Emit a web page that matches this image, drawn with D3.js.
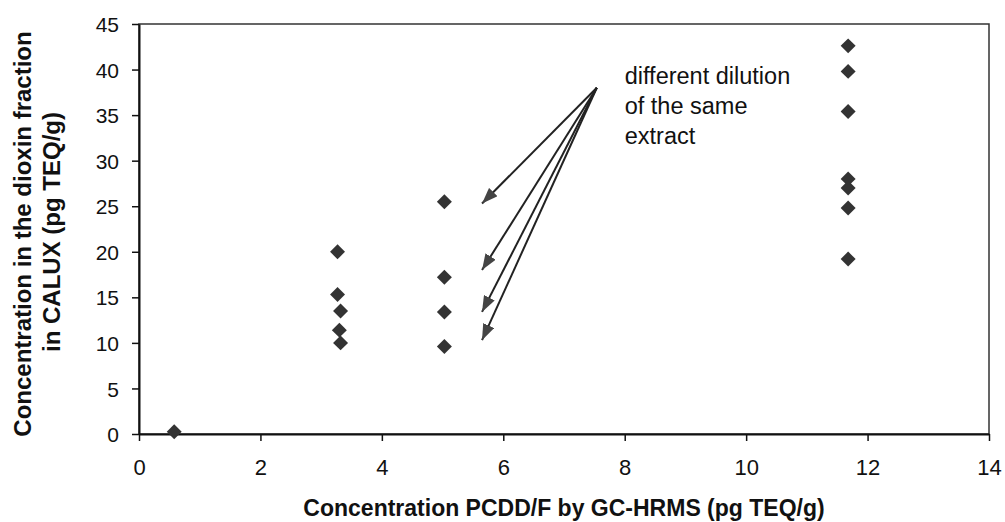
<!DOCTYPE html>
<html>
<head>
<meta charset="utf-8">
<script src="https://cdn.jsdelivr.net/npm/d3@7"></script>
<style>
  body { margin: 0; background: #fff; }
  text { font-family: Arial, "Liberation Sans", sans-serif; fill: #111; }
</style>
</head>
<body>
<div id="chart"></div>
<script>
// data
const calux_x = [0.58, 3.27, 3.27, 3.32, 3.30, 3.32, 5.03, 5.03, 5.03, 5.03, 11.68, 11.68, 11.68, 11.68, 11.68, 11.68, 11.68];
const calux_y = [0.25, 20.0, 15.3, 13.5, 11.4, 10.0, 25.5, 17.2, 13.4, 9.6, 42.6, 39.8, 35.4, 28.0, 27.0, 24.8, 19.2];

const x_ticks = [0, 2, 4, 6, 8, 10, 12, 14];
const y_ticks = [0, 5, 10, 15, 20, 25, 30, 35, 40, 45];

// annotation arrows, in data units
const arrow_start = [7.54, 38.0];
const arrow_ends = [[5.65, 25.3], [5.65, 18.0], [5.65, 13.4], [5.65, 10.3]];
const note_lines = ["different dilution", "of the same", "extract"];

const w = 1005, h = 522;
const margin = { top: 24, right: 16, bottom: 88, left: 139 },
    width = w - margin.left - margin.right,
    height = h - margin.top - margin.bottom;

const svg = d3.select("#chart")
    .append("svg")
    .attr("width", w)
    .attr("height", h);

svg.append("defs").append("marker")
    .attr("id", "head")
    .attr("markerUnits", "userSpaceOnUse")
    .attr("viewBox", "0 0 16 12")
    .attr("refX", 16).attr("refY", 6)
    .attr("markerWidth", 16).attr("markerHeight", 12)
    .attr("orient", "auto")
    .append("path")
    .attr("d", "M0,0 L16,6 L0,12 Z")
    .attr("fill", "#444");

const g = svg.append("g")
    .attr("transform", `translate(${margin.left}, ${margin.top})`);

const x = d3.scaleLinear().domain([0, 14]).range([0, width]);
const y = d3.scaleLinear().domain([0, 45]).range([height, 0]);

// plot frame (top and right)
g.append("rect")
    .attr("width", width).attr("height", height)
    .attr("fill", "none")
    .attr("stroke", "#333")
    .attr("stroke-width", 1.5);

// axes
const xAxis = g.append("g")
    .attr("transform", `translate(0, ${height})`)
    .call(d3.axisBottom(x).tickValues(x_ticks).tickSize(7).tickPadding(18).tickSizeOuter(0));

const yAxis = g.append("g")
    .call(d3.axisLeft(y).tickValues(y_ticks).tickSize(7).tickPadding(13).tickSizeOuter(0));

[xAxis, yAxis].forEach(a => {
    a.select(".domain").attr("stroke", "#111").attr("stroke-width", 2);
    a.selectAll(".tick line").attr("stroke", "#111").attr("stroke-width", 1.5);
    a.selectAll("text").style("font-family", "Arial, 'Liberation Sans', sans-serif").attr("fill", "#111");
});
xAxis.selectAll("text").style("font-size", "22px");
yAxis.selectAll("text").style("font-size", "21px").attr("dy", "0.36em");

// points
const pts = calux_x.map((d, i) => ({ x: d, y: calux_y[i] }));
g.selectAll(".pt")
    .data(pts)
    .join("path")
    .attr("class", "pt")
    .attr("d", d3.symbol(d3.symbolSquare, 112))
    .attr("transform", d => `translate(${x(d.x)}, ${y(d.y)}) rotate(45)`)
    .attr("fill", "#333");

// arrows
g.selectAll(".arrow")
    .data(arrow_ends)
    .join("line")
    .attr("class", "arrow")
    .attr("x1", x(arrow_start[0])).attr("y1", y(arrow_start[1]))
    .attr("x2", d => x(d[0])).attr("y2", d => y(d[1]))
    .attr("stroke", "#222")
    .attr("stroke-width", 2)
    .attr("marker-end", "url(#head)");

// note text
g.append("text")
    .attr("transform", `translate(${x(8.0)}, ${y(38.4)})`)
    .style("font-size", "23.5px")
    .selectAll("tspan")
    .data(note_lines)
    .join("tspan")
    .attr("x", 0)
    .attr("dy", (d, i) => i == 0 ? 0 : 30)
    .text(d => d);

// axis titles
svg.append("text")
    .attr("x", margin.left + width / 2)
    .attr("y", 516)
    .attr("text-anchor", "middle")
    .style("font-size", "23px")
    .style("font-weight", "bold")
    .text("Concentration PCDD/F by GC-HRMS (pg TEQ/g)");

svg.append("text")
    .attr("transform", "translate(31, 234) rotate(-90)")
    .attr("text-anchor", "middle")
    .style("font-size", "24px")
    .style("font-weight", "bold")
    .text("Concentration in the dioxin fraction");

svg.append("text")
    .attr("transform", "translate(60, 232) rotate(-90)")
    .attr("text-anchor", "middle")
    .style("font-size", "24px")
    .style("font-weight", "bold")
    .text("in CALUX (pg TEQ/g)");
</script>
</body>
</html>
